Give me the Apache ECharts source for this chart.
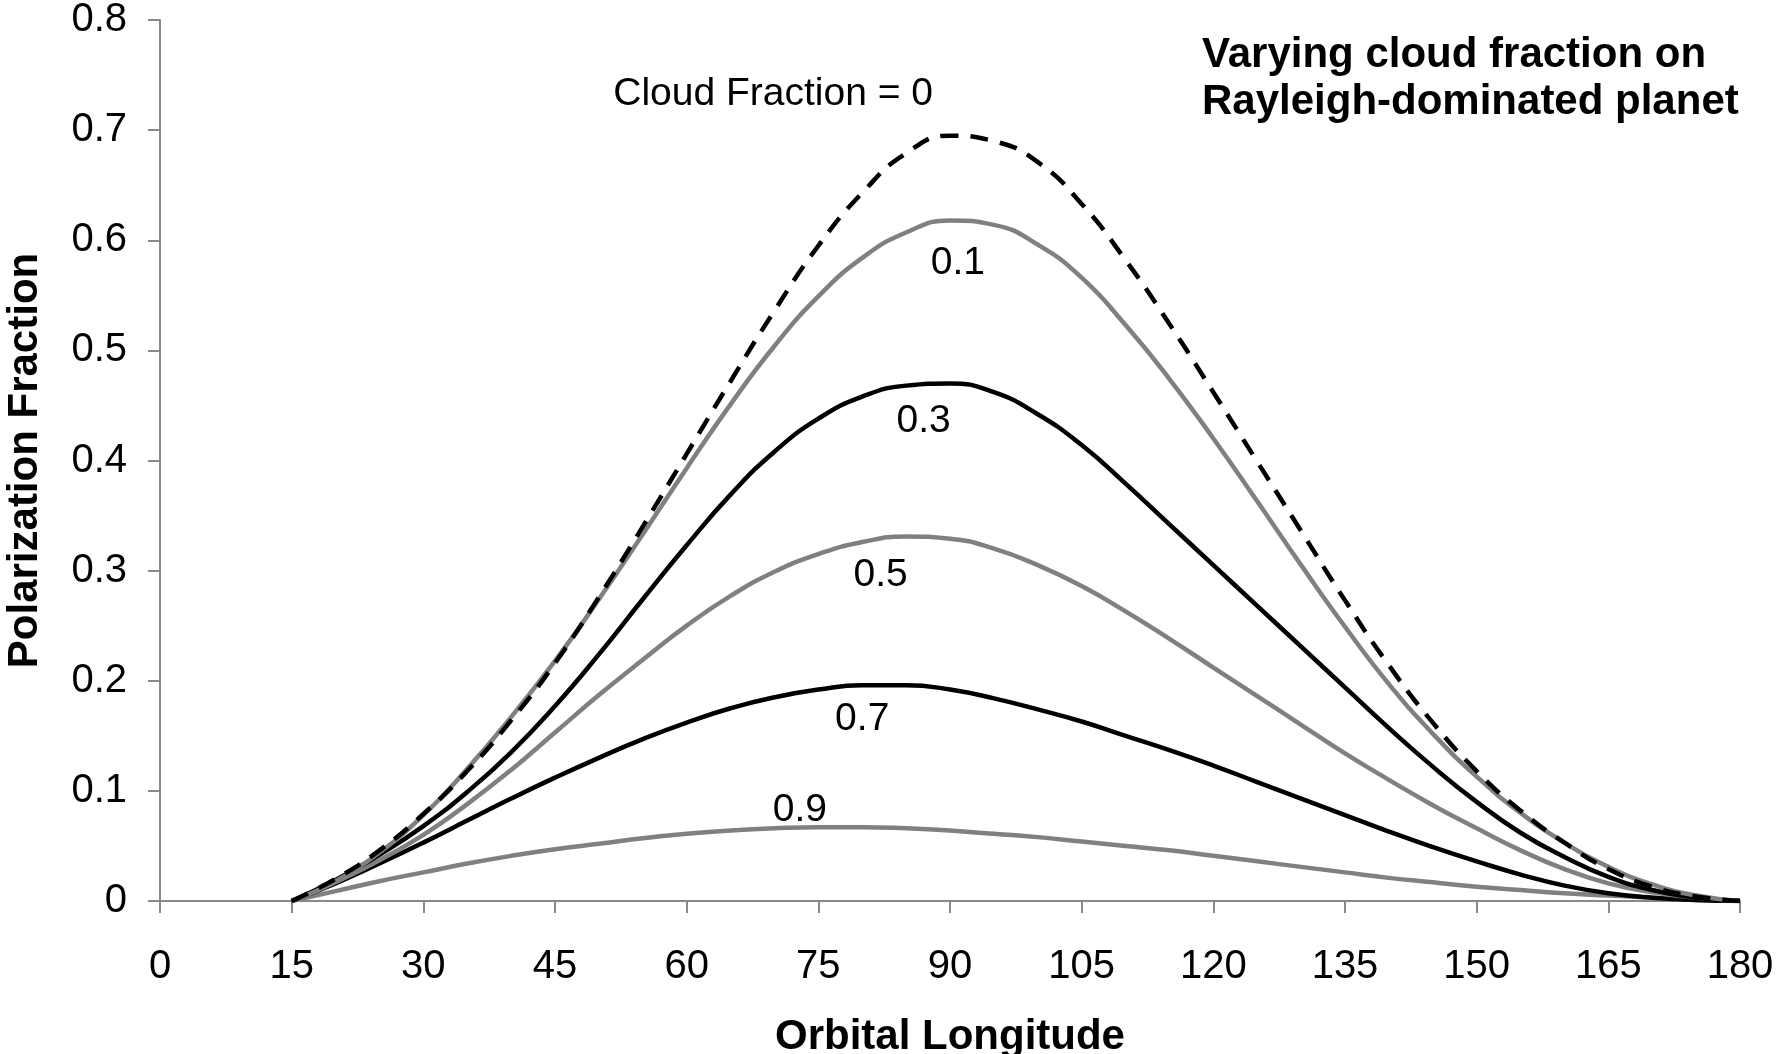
<!DOCTYPE html>
<html>
<head>
<meta charset="utf-8">
<script src="https://cdn.jsdelivr.net/npm/echarts@6/dist/echarts.min.js"></script>
<style>
  html, body { margin: 0; padding: 0; background: #fff; }
  #chart { width: 1776px; height: 1054px; }
</style>
</head>
<body>
<div id="chart"></div>
<script>
// Orbital longitude (degrees)
const lon = [15,20,25,30,35,40,45,50,55,60,65,70,75,80,85,90,95,100,105,110,115,120,125,130,135,140,145,150,155,160,165,170,175,180];

// Polarization fraction for each cloud fraction
const cf00 = [0,0.020,0.046,0.079,0.118,0.164,0.216,0.276,0.340,0.406,0.472,0.536,0.595,0.643,0.679,0.695,0.690,0.671,0.633,0.582,0.524,0.462,0.399,0.336,0.273,0.214,0.162,0.118,0.082,0.053,0.029,0.013,0.004,0];
const cf01 = [0,0.018,0.044,0.078,0.120,0.167,0.218,0.274,0.333,0.393,0.451,0.504,0.549,0.584,0.607,0.618,0.614,0.596,0.566,0.523,0.474,0.420,0.363,0.305,0.249,0.197,0.152,0.113,0.080,0.053,0.031,0.015,0.005,0];
const cf03 = [0,0.019,0.042,0.068,0.099,0.135,0.177,0.224,0.274,0.323,0.369,0.408,0.438,0.458,0.468,0.470,0.462,0.442,0.414,0.379,0.342,0.305,0.268,0.231,0.194,0.157,0.122,0.090,0.062,0.040,0.022,0.010,0.003,0];
const cf05 = [0,0.017,0.037,0.060,0.088,0.119,0.153,0.187,0.219,0.250,0.277,0.299,0.315,0.326,0.331,0.329,0.320,0.305,0.286,0.263,0.238,0.212,0.186,0.160,0.134,0.110,0.087,0.066,0.046,0.029,0.016,0.008,0.003,0];
const cf07 = [0,0.016,0.034,0.053,0.073,0.093,0.112,0.130,0.147,0.162,0.175,0.185,0.192,0.196,0.196,0.192,0.184,0.174,0.163,0.150,0.137,0.123,0.108,0.093,0.078,0.063,0.049,0.036,0.024,0.014,0.007,0.003,0.001,0];
const cf09 = [0,0.009,0.018,0.026,0.034,0.041,0.047,0.052,0.057,0.061,0.064,0.066,0.067,0.067,0.066,0.064,0.061,0.058,0.054,0.050,0.046,0.041,0.036,0.031,0.026,0.021,0.017,0.013,0.010,0.007,0.005,0.003,0.001,0];

// Axis tick settings
const xTicks = { min: 0, max: 180, interval: 15 };
const yTicks = { min: 0, max: 0.8, interval: 0.1 };

// Curve labels
const labelTexts = ['Cloud Fraction = 0', '0.1', '0.3', '0.5', '0.7', '0.9'];

const FONT = "'Liberation Sans', Arial, sans-serif";
const GRAY = '#808080';
const AXIS = '#898989';

// label anchor positions (data coordinates, layout only)
const labelPos = [[69.85, 0.733], [90.9, 0.579], [87.0, 0.436], [82.1, 0.296], [80.0, 0.165], [72.9, 0.082]];

function pairs(vals) { return lon.map((x, i) => [x, vals[i]]); }
function mark(i) {
  return {
    silent: true,
    symbol: 'circle',
    symbolSize: 1,
    itemStyle: { color: 'rgba(0,0,0,0)' },
    label: { show: true, position: 'inside', formatter: '{b}', fontSize: 39, color: '#000', fontFamily: FONT },
    data: [{ name: labelTexts[i], coord: labelPos[i] }]
  };
}

const seriesDefs = [
  { vals: cf09, color: GRAY, type: 'solid', idx: 5 },
  { vals: cf07, color: '#000', type: 'solid', idx: 4 },
  { vals: cf05, color: GRAY, type: 'solid', idx: 3 },
  { vals: cf03, color: '#000', type: 'solid', idx: 2 },
  { vals: cf01, color: GRAY, type: 'solid', idx: 1 },
  { vals: cf00, color: '#000', type: [18, 12], idx: 0 }
];

const chart = echarts.init(document.getElementById('chart'), null, { renderer: 'canvas' });
chart.setOption({
  animation: false,
  backgroundColor: '#fff',
  title: {
    text: 'Varying cloud fraction on\nRayleigh-dominated planet',
    left: 1197,
    top: 27,
    textStyle: { fontSize: 42, fontWeight: 'bold', color: '#000', fontFamily: FONT, lineHeight: 47 }
  },
  grid: { left: 160, right: 36, top: 20, bottom: 153, containLabel: false, outerBoundsMode: 'none' },
  xAxis: {
    type: 'value',
    min: xTicks.min, max: xTicks.max, interval: xTicks.interval,
    name: 'Orbital Longitude',
    nameLocation: 'middle',
    nameGap: 115,
    nameTextStyle: { fontSize: 42, fontWeight: 'bold', color: '#000', fontFamily: FONT },
    axisLine: { show: true, lineStyle: { color: AXIS, width: 2 } },
    axisTick: { show: true, length: 12, lineStyle: { color: AXIS, width: 2 } },
    splitLine: { show: false },
    axisLabel: { fontSize: 40, color: '#000', fontFamily: FONT, margin: 46 }
  },
  yAxis: {
    type: 'value',
    min: yTicks.min, max: yTicks.max, interval: yTicks.interval,
    name: 'Polarization Fraction',
    nameLocation: 'middle',
    nameGap: 114,
    nameTextStyle: { fontSize: 42, fontWeight: 'bold', color: '#000', fontFamily: FONT },
    axisLine: { show: true, lineStyle: { color: AXIS, width: 2 } },
    axisTick: { show: true, length: 12, lineStyle: { color: AXIS, width: 2 } },
    splitLine: { show: false },
    axisLabel: {
      fontSize: 40, color: '#000', fontFamily: FONT, margin: 33,
      formatter: v => (Math.abs(v) < 1e-9 ? '0' : v.toFixed(1))
    }
  },
  series: seriesDefs.map(d => ({
    type: 'line',
    data: pairs(d.vals),
    smooth: 0.5,
    showSymbol: false,
    symbol: 'none',
    lineStyle: { color: d.color, width: 4.5, type: d.type, cap: 'butt' },
    itemStyle: { color: d.color },
    markPoint: mark(d.idx),
    z: 2
  }))
});
</script>
</body>
</html>
